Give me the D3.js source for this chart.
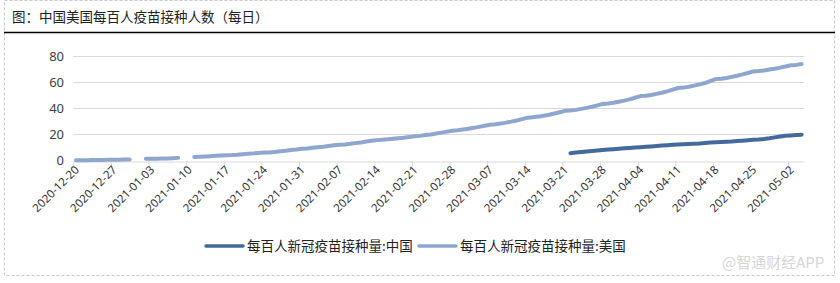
<!DOCTYPE html>
<html>
<head>
<meta charset="utf-8">
<script src="https://cdn.jsdelivr.net/npm/d3@7"></script>
<style>
  html, body { margin: 0; padding: 0; background: #fff; }
  svg { display: block; }
  .cjk { font-family: "Noto Sans CJK SC", sans-serif; }
</style>
</head>
<body>
<svg width="840" height="283"></svg>
<script>
// daily dates 2020-12-20 .. 2021-05-04
var firstDay = new Date(2020, 11, 20),
    endDay = new Date(2021, 4, 5);

// 每百人新冠疫苗接种量:美国 (null = no data that day)
var usValues = [
  0.17, 0.19, 0.25, 0.30, 0.40, 0.45, 0.57, 0.60, 0.64, 0.74,
  0.83, null, null, 1.28, 1.30, 1.35, 1.45, 1.60, 1.77, 2.01,
  null, null, 2.68, 2.87, 3.08, 3.31, 3.61, 3.80, 4.00, 4.12,
  4.40, 4.82, 5.12, 5.45, 5.82, 6.04, 6.19, 6.46, 7.02, 7.41,
  8.04, 8.45, 9.00, 9.23, 9.70, 10.15, 10.60, 11.15, 11.70, 12.10,
  12.30, 12.75, 13.30, 13.85, 14.55, 15.10, 15.60, 15.90, 16.20, 16.60,
  17.05, 17.50, 18.00, 18.50, 18.85, 19.45, 19.95, 20.60, 21.35, 22.10,
  22.80, 23.10, 23.70, 24.35, 25.00, 25.75, 26.55, 27.40, 27.70, 28.25,
  29.00, 29.75, 30.60, 31.65, 32.80, 33.15, 33.60, 34.30, 35.05, 35.95,
  36.95, 38.00, 38.35, 38.75, 39.50, 40.30, 41.20, 42.20, 43.30, 43.65,
  44.15, 45.00, 45.85, 46.80, 48.05, 49.30, 49.60, 50.10, 51.00, 51.90,
  52.90, 54.20, 55.50, 55.80, 56.40, 57.30, 58.30, 59.30, 60.80, 62.30,
  62.60, 63.10, 64.00, 64.90, 65.90, 67.00, 68.20, 68.50, 68.90, 69.60,
  70.30, 71.10, 72.00, 72.90, 73.20, 73.80
];

// 每百人新冠疫苗接种量:中国, from 2021-03-22
var chinaStart = new Date(2021, 2, 22);
var chinaValues = [
  5.6, 6.1, 6.5, 6.9, 7.3, 7.7, 8.1, 8.4, 8.7, 9.0,
  9.3, 9.6, 9.9, 10.2, 10.5, 10.8, 11.1, 11.4, 11.7, 12.0,
  12.3, 12.5, 12.7, 12.9, 13.1, 13.4, 13.7, 14.0, 14.2, 14.4,
  14.6, 14.9, 15.2, 15.5, 15.8, 16.1, 16.5, 17.0, 17.7, 18.4,
  18.9, 19.2, 19.5, 19.8
];

var tickLabels = [
  "2020-12-20", "2020-12-27", "2021-01-03", "2021-01-10", "2021-01-17",
  "2021-01-24", "2021-01-31", "2021-02-07", "2021-02-14", "2021-02-21",
  "2021-02-28", "2021-03-07", "2021-03-14", "2021-03-21", "2021-03-28",
  "2021-04-04", "2021-04-11", "2021-04-18", "2021-04-25", "2021-05-02"
];
var yTicks = [0, 20, 40, 60, 80];

var seriesNames = ["每百人新冠疫苗接种量:中国", "每百人新冠疫苗接种量:美国"];
var colors = ["#44699b", "#8fa6cf"];

var title = "图：中国美国每百人疫苗接种人数（每日）";

var svg = d3.select("svg");

// outer dashed frame
svg.append("rect")
    .attr("x", 4.5).attr("y", 0.5)
    .attr("width", 830).attr("height", 275)
    .attr("fill", "none")
    .attr("stroke", "#c8c8c8")
    .attr("stroke-dasharray", "3,2");

svg.append("text")
    .attr("class", "cjk")
    .attr("x", 12).attr("y", 22)
    .attr("font-size", "13.5px")
    .attr("fill", "#222")
    .text(title);

svg.append("line")
    .attr("x1", 4).attr("x2", 835)
    .attr("y1", 32.5).attr("y2", 32.5)
    .attr("stroke", "#000").attr("stroke-width", 1.3);

var parse = d3.timeParse("%Y-%m-%d");

var x = d3.scaleTime()
    .domain([firstDay, endDay])
    .range([73.3, 804.3]);

var y = d3.scaleLinear()
    .domain([0, 80])
    .range([160.5, 56]);

// grid
svg.append("g")
  .selectAll("line")
  .data(yTicks.slice(1))
  .enter().append("line")
    .attr("x1", x.range()[0]).attr("x2", x.range()[1])
    .attr("y1", function(d) { return Math.round(y(d)) + 0.5; })
    .attr("y2", function(d) { return Math.round(y(d)) + 0.5; })
    .attr("stroke", "#d9d9d9");

// y axis labels
var yAxis = svg.append("g")
    .attr("transform", "translate(73,0)")
    .call(d3.axisLeft(y).tickValues(yTicks).tickSize(0).tickPadding(9));
yAxis.select(".domain").remove();
yAxis.selectAll("text")
    .attr("font-family", "Noto Sans, sans-serif")
    .attr("font-size", "13px")
    .attr("fill", "#404040");

// x axis
var xAxis = svg.append("g")
    .attr("transform", "translate(0," + (Math.round(y(0)) + 0.5) + ")")
    .call(d3.axisBottom(x)
      .tickValues(tickLabels.map(parse))
      .tickFormat(d3.timeFormat("%Y-%m-%d"))
      .tickSizeOuter(0)
      .tickSizeInner(5));
xAxis.select(".domain").attr("stroke", "#d9d9d9");
xAxis.selectAll(".tick line").attr("stroke", "#d9d9d9");
xAxis.selectAll("text")
    .attr("font-family", "Noto Sans, sans-serif")
    .attr("font-size", "11.5px")
    .attr("fill", "#333")
    .attr("text-anchor", "end")
    .attr("dy", null)
    .attr("y", 0)
    .attr("transform", "translate(6,9) rotate(-45)");

var halfDay = 12 * 3600 * 1000;

var usData = usValues.map(function(v, i) {
  return { date: d3.timeDay.offset(firstDay, i), value: v };
});
var chinaData = chinaValues.map(function(v, i) {
  return { date: d3.timeDay.offset(chinaStart, i), value: v };
});

var line = d3.line()
    .defined(function(d) { return d.value != null; })
    .x(function(d) { return x(+d.date + halfDay); })
    .y(function(d) { return y(d.value); });

svg.append("path")
    .datum(usData)
    .attr("d", line)
    .attr("fill", "none")
    .attr("stroke", colors[1])
    .attr("stroke-width", 4)
    .attr("stroke-linecap", "round")
    .attr("stroke-linejoin", "round");

svg.append("path")
    .datum(chinaData)
    .attr("d", line)
    .attr("fill", "none")
    .attr("stroke", colors[0])
    .attr("stroke-width", 4)
    .attr("stroke-linecap", "round")
    .attr("stroke-linejoin", "round");

// legend
var legendX = [206, 419];
var legend = svg.append("g")
  .selectAll("g")
  .data(seriesNames)
  .enter().append("g")
    .attr("transform", function(d, i) { return "translate(" + legendX[i] + ",246)"; });

legend.append("line")
    .attr("x1", 0).attr("x2", 37)
    .attr("stroke", function(d, i) { return colors[i]; })
    .attr("stroke-width", 3.5)
    .attr("stroke-linecap", "round");

legend.append("text")
    .attr("class", "cjk")
    .attr("x", 41).attr("y", 5)
    .attr("font-size", "13.5px")
    .attr("fill", "#222")
    .text(function(d) { return d; });

// watermark
svg.append("text")
    .attr("class", "cjk")
    .attr("x", 722).attr("y", 268)
    .attr("font-size", "15px")
    .attr("fill", "#d6d6d6")
    .text("@智通财经APP");
</script>
</body>
</html>
